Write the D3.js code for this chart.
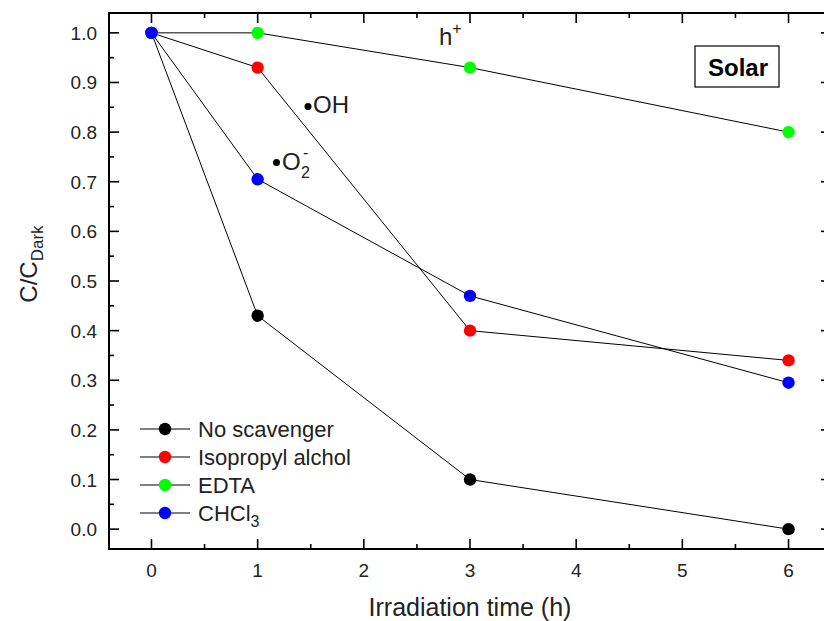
<!DOCTYPE html>
<html>
<head>
<meta charset="utf-8">
<script src="https://cdn.jsdelivr.net/npm/d3@7"></script>
<style>
  body { margin: 0; background: #fff; }
  svg { display: block; font-family: "Liberation Sans", Arial, sans-serif; }
</style>
</head>
<body>
<svg id="chart" width="824" height="621"></svg>
<script>
// Irradiation time (h) sampled for each scavenger run
const times = [0, 1, 3, 6];
const noScavenger = [1.0, 0.43, 0.10, 0.0];
const isopropyl   = [1.0, 0.93, 0.40, 0.34];
const edta        = [1.0, 1.0, 0.93, 0.80];
const chcl3       = [1.0, 0.705, 0.47, 0.295];

const seriesNames  = ["No scavenger", "Isopropyl alchol", "EDTA", "CHCl3"];
const seriesColors = ["#000000", "#ff0000", "#00ff00", "#0000ff"];
const seriesValues = [noScavenger, isopropyl, edta, chcl3];

const xTicks = [0, 1, 2, 3, 4, 5, 6];
const yTicks = [0.0, 0.1, 0.2, 0.3, 0.4, 0.5, 0.6, 0.7, 0.8, 0.9, 1.0];

const svg = d3.select("#chart");
const plotL = 109, plotR = 831, plotT = 13, plotB = 549;

const x = d3.scaleLinear().domain([-0.4, 6.4]).range([plotL, plotR]);
const y = d3.scaleLinear().domain([-0.04, 1.04]).range([plotB, plotT]);

const xMinor = [0.5, 1.5, 2.5, 3.5, 4.5, 5.5];
const yMinor = [0.05, 0.15, 0.25, 0.35, 0.45, 0.55, 0.65, 0.75, 0.85, 0.95];

// frame
svg.append("rect")
  .attr("x", plotL).attr("y", plotT)
  .attr("width", plotR - plotL).attr("height", plotB - plotT)
  .attr("fill", "none").attr("stroke", "#000").attr("stroke-width", 2);

const tickG = svg.append("g").attr("stroke", "#000").attr("stroke-width", 1.6);
const majL = 10, minL = 5;
// bottom & top ticks, pointing inward
xTicks.forEach(v => {
  tickG.append("line").attr("x1", x(v)).attr("x2", x(v)).attr("y1", plotB).attr("y2", plotB - majL);
  tickG.append("line").attr("x1", x(v)).attr("x2", x(v)).attr("y1", plotT).attr("y2", plotT + majL);
});
xMinor.forEach(v => {
  tickG.append("line").attr("x1", x(v)).attr("x2", x(v)).attr("y1", plotB).attr("y2", plotB - minL);
  tickG.append("line").attr("x1", x(v)).attr("x2", x(v)).attr("y1", plotT).attr("y2", plotT + minL);
});
// left & right ticks
yTicks.forEach(v => {
  tickG.append("line").attr("x1", plotL).attr("x2", plotL + majL).attr("y1", y(v)).attr("y2", y(v));
  tickG.append("line").attr("x1", plotR).attr("x2", plotR - majL).attr("y1", y(v)).attr("y2", y(v));
});
yMinor.forEach(v => {
  tickG.append("line").attr("x1", plotL).attr("x2", plotL + minL).attr("y1", y(v)).attr("y2", y(v));
  tickG.append("line").attr("x1", plotR).attr("x2", plotR - minL).attr("y1", y(v)).attr("y2", y(v));
});

// tick labels
svg.append("g").selectAll("text").data(xTicks).join("text")
  .attr("x", d => x(d)).attr("y", 577)
  .attr("text-anchor", "middle").attr("font-size", 19).attr("fill", "#222")
  .text(d => d3.format("d")(d));
svg.append("g").selectAll("text").data(yTicks).join("text")
  .attr("x", 97).attr("y", d => y(d) + 7)
  .attr("text-anchor", "end").attr("font-size", 19).attr("fill", "#222")
  .text(d => d3.format(".1f")(d));

// axis titles
svg.append("text")
  .attr("x", 470).attr("y", 616)
  .attr("text-anchor", "middle").attr("font-size", 25).attr("fill", "#222")
  .text("Irradiation time (h)");

const yTitle = svg.append("text")
  .attr("transform", "translate(37,264) rotate(-90)")
  .attr("text-anchor", "middle").attr("font-size", 24).attr("fill", "#222");
yTitle.append("tspan").text("C/C");
yTitle.append("tspan").attr("font-size", 17).attr("dy", 6).text("Dark");

// series lines and markers
const line = d3.line().x((d, i) => x(times[i])).y(d => y(d));
seriesValues.forEach(vals => {
  svg.append("path")
    .attr("d", line(vals))
    .attr("fill", "none").attr("stroke", "#000").attr("stroke-width", 1);
});
seriesValues.forEach((vals, k) => {
  svg.append("g").selectAll("circle").data(vals).join("circle")
    .attr("cx", (d, i) => x(times[i])).attr("cy", d => y(d))
    .attr("r", 6.2).attr("fill", seriesColors[k]);
});

// legend
const legend = svg.append("g");
seriesNames.forEach((name, k) => {
  const ly = 429 + k * 28;
  legend.append("line").attr("x1", 140).attr("x2", 190).attr("y1", ly).attr("y2", ly)
    .attr("stroke", "#000").attr("stroke-width", 1);
  legend.append("circle").attr("cx", 165).attr("cy", ly).attr("r", 6.2).attr("fill", seriesColors[k]);
  const t = legend.append("text").attr("x", 198).attr("y", ly + 7.5)
    .attr("font-size", 22).attr("fill", "#222");
  if (name === "CHCl3") {
    t.append("tspan").text("CHCl");
    t.append("tspan").attr("font-size", 16).attr("dy", 6).text("3");
  } else {
    t.text(name);
  }
});

// species annotations
const h = svg.append("text").attr("x", 439).attr("y", 45).attr("font-size", 24).attr("fill", "#222");
h.append("tspan").text("h");
h.append("tspan").attr("font-size", 16).attr("dy", -11).text("+");

svg.append("circle").attr("cx", 308).attr("cy", 106.5).attr("r", 3.5).attr("fill", "#000");
svg.append("text").attr("x", 313).attr("y", 113).attr("font-size", 24).attr("fill", "#222").text("OH");

svg.append("circle").attr("cx", 276.5).attr("cy", 162.5).attr("r", 3.5).attr("fill", "#000");
const o2 = svg.append("text").attr("x", 282).attr("y", 170).attr("font-size", 24).attr("fill", "#222");
o2.append("tspan").text("O");
o2.append("tspan").attr("font-size", 16).attr("x", 301).attr("dy", 8).text("2");
o2.append("tspan").attr("font-size", 16).attr("x", 303).attr("dy", -20).text("-");

// condition label box
svg.append("rect").attr("x", 695).attr("y", 46).attr("width", 84).attr("height", 41)
  .attr("fill", "#fff").attr("stroke", "#000").attr("stroke-width", 1.2);
svg.append("text").attr("x", 738).attr("y", 76).attr("text-anchor", "middle")
  .attr("font-size", 24).attr("font-weight", "bold").attr("fill", "#000").text("Solar");
</script>
</body>
</html>
